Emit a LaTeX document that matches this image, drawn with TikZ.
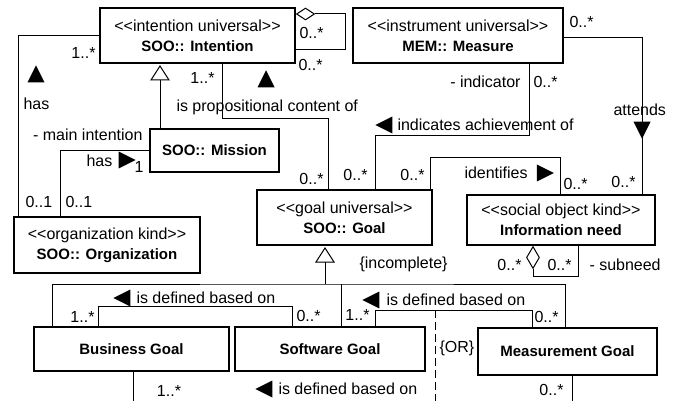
\documentclass[tikz,border=0pt]{standalone}
\usepackage{fontspec}
\setmainfont{Liberation Sans}
\usetikzlibrary{shapes.geometric}
\newcommand{\stereo}[1]{<\kern0pt<#1>\kern0pt>}
\newcommand{\cname}[1]{{\fontsize{15}{20}\selectfont\textbf{#1}}}

\begin{document}
\begin{tikzpicture}[x=1pt, y=-1pt, line width=1pt, inner sep=1pt,
    font=\fontsize{16}{20}\selectfont]
      \tikzset{cls/.style={draw, line width=2pt, align=center,
        inner sep=0pt}}
      \tikzset{gentri/.style={draw, fill=white, line join=miter}}
      \tikzset{dirtri/.style={isosceles triangle,
        isosceles triangle stretches, fill, inner sep=0pt,
        minimum width=17, minimum height=17, shape border rotate=#1}}
      \tikzset{agg/.style={diamond, draw, fill=white, inner sep=0pt,
        line width=1pt}}
      \tikzset{orline/.style={dash pattern=on 8pt off 4pt}}

      \useasboundingbox (0,0) rectangle (675,401);

      \draw
      (197.5,35.5) node [cls, minimum width=195, minimum height=55] (intention)
        {\stereo{intention universal}\\\cname{SOO:: Intention}}
      (458,35.5) node [cls, minimum width=210, minimum height=55] (measure)
        {\stereo{instrument universal}\\\cname{MEM:: Measure}}
      (214.5,150.5) node [cls, minimum width=129, minimum height=43] (mission)
        {\cname{SOO:: Mission}}
      (107,245) node [cls, minimum width=186, minimum height=56] (org)
        {\stereo{organization kind}\\\cname{SOO:: Organization}}
      (344.5,217.5) node [cls, minimum width=175, minimum height=55] (goal)
        {\stereo{goal universal}\\\cname{SOO:: Goal}}
      (561,220) node [cls, minimum width=188, minimum height=50] (infoneed)
        {\stereo{social object kind}\\\cname{Information need}}
      (131.5,349) node [cls, minimum width=195, minimum height=44] (business)
        {\cname{Business Goal}}
      (330,349) node [cls, minimum width=190, minimum height=44] (software)
        {\cname{Software Goal}}
      (567.5,351.5) node [cls, minimum width=179, minimum height=47] (measurement)
        {\cname{Measurement Goal}};

      \coordinate (gen1) at ([xshift=-37.5pt, yshift=-2pt]intention.south);
      \coordinate (gen2) at ([xshift=-19.5pt, yshift=-2pt]goal.south);
      \draw [gentri] (gen1) -- ++(9,14) -- ++(-18,0) -- cycle;
      \draw [gentri] (gen2) -- ++(9,14) -- ++(-18,0) -- cycle;
      \node [agg, minimum width=18, minimum height=12, anchor=west] (agg1)
        at ([yshift=-7pt]intention.north east) {};
      \node [agg, minimum width=13, minimum height=22, anchor=north] (agg2)
        at ([xshift=-28pt]infoneed.south) {};
      \coordinate (split) at ([yshift=-38pt]goal.south);
      \coordinate (orTop) at (435,310);
      \coordinate (orBot) at (435,401);

      \draw
      (intention.west) -| ([xshift=-89pt]org.north)
      (mission.west) -| ([xshift=-47pt]org.north)
      ([xshift=-54.5pt]mission.north) to ([yshift=-14pt]gen1)
      ([xshift=24.5pt]intention.south) -- ++(0,55) -| ([xshift=-16.5pt]goal.north)
      (agg1.east) -- ++(30,0) |- ([yshift=-14.5pt]intention.east)
      ([xshift=71pt]measure.south) -- ++(0,72) -| ([xshift=30.5pt]goal.north)
      ([xshift=85.5pt]goal.north) -- ++(0,-31) -| ([xshift=-1pt]infoneed.north)
      ([yshift=-2.5pt]measure.east) -| ([xshift=81pt]infoneed.north)
      (agg2.south) -- ++(0,7) -| ([xshift=17pt]infoneed.south)
      ([yshift=-14pt]gen2) to (gen2 |- split)
      ([xshift=-79.5pt]business.north) |- (split) -| ([xshift=-2.5pt]measurement.north)
      ([xshift=11pt]software.north) to ([xshift=11pt]software.north |- split)
      ([xshift=-33.5pt]business.north) -- ++(0,-20) -| ([xshift=-38pt]software.north)
      ([xshift=45pt]software.north) -- ++(0,-16) -| ([xshift=-35.5pt]measurement.north)
      ([xshift=1.5pt]business.south) -- ++(0,32)
      ([xshift=4.5pt]measurement.south) -- ++(0,30);
      \draw [orline] (orTop) -- (orBot);

      \draw
      (97,53) node [anchor=east] (hasM1) {1..*}
      (36,77) node [dirtri=90] (hasTri) {}
      (22,104) node [anchor=west] (hasLbl) {has}
      (24,202) node [anchor=west] (orgM1) {0..1}
      (64,202) node [anchor=west] (orgM2) {0..1}
      (144,135) node [anchor=east] (mainInt) {- main intention}
      (85,161) node [anchor=west] (has2Lbl) {has}
      (124,160) node [dirtri=0] (has2Tri) {}
      (139,167) node (has2M) {1}
      (216,78) node [anchor=east] (propM1) {1..*}
      (266,82) node [dirtri=90] (propTri) {}
      (175,107) node [anchor=west] (propLbl) {is propositional content of}
      (325,179) node [anchor=east] (propM2) {0..*}
      (298,33) node [anchor=west] (selfM1) {0..*}
      (297,65) node [anchor=west] (selfM2) {0..*}
      (568,22) node [anchor=west] (measM) {0..*}
      (522,82) node [anchor=east] (indRole) {- indicator}
      (532,82) node [anchor=west] (indM1) {0..*}
      (387,125) node [dirtri=180] (indTri) {}
      (396,125) node [anchor=west] (indLbl) {indicates achievement of}
      (612,110) node [anchor=west] (attLbl) {attends}
      (642,127) node [dirtri=270] (attTri) {}
      (369,175) node [anchor=east] (indM2) {0..*}
      (426,175) node [anchor=east] (idM1) {0..*}
      (463,173) node [anchor=west] (idLbl) {identifies}
      (542,173) node [dirtri=0] (idTri) {}
      (562,184) node [anchor=west] (idM2) {0..*}
      (637,182) node [anchor=east] (attM) {0..*}
      (358,264) node [anchor=west] (incomplete) {\{incomplete\}}
      (523,265) node [anchor=east] (subM1) {0..*}
      (546,265) node [anchor=west] (subM2) {0..*}
      (588,265) node [anchor=west] (subRole) {- subneed}
      (125,298) node [dirtri=180] (def1Tri) {}
      (135,298) node [anchor=west] (def1Lbl) {is defined based on}
      (96,317) node [anchor=east] (def1M1) {1..*}
      (295,316) node [anchor=west] (def1M2) {0..*}
      (374,300) node [dirtri=180] (def2Tri) {}
      (385,300) node [anchor=west] (def2Lbl) {is defined based on}
      (371,315) node [anchor=east] (def2M1) {1..*}
      (533,317) node [anchor=west] (def2M2) {0..*}
      (438,348) node [anchor=west] (orLbl) {\{OR\}}
      (169,391) node (def3M1) {1..*}
      (267,389) node [dirtri=180] (def3Tri) {}
      (277,389) node [anchor=west] (def3Lbl) {is defined based on}
      (565,390) node [anchor=east] (def3M2) {0..*};
    \end{tikzpicture}
\end{document}
